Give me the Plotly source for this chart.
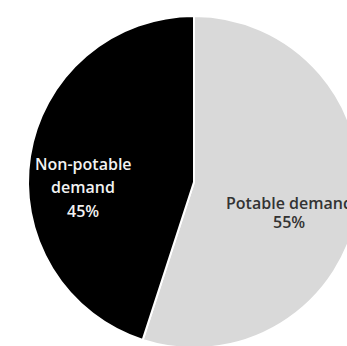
import plotly.graph_objects as go

labels = ["Potable demand", "Non-potable demand"]
values = [55, 45]
label_lines = [["Potable demand", "55%"], ["Non-potable", "demand", "45%"]]
colors = ["#d9d9d9", "#000000"]
text_colors = ["#333333", "#f2f2f2"]

W, H = 380, 362
cx, cy, r = 194, 182, 166

fig = go.Figure(go.Pie(
    labels=labels,
    values=values,
    textinfo="none",
    sort=False,
    direction="clockwise",
    rotation=0,
    marker=dict(colors=colors, line=dict(color="white", width=2)),
    domain=dict(x=[(cx - r) / W, (cx + r) / W], y=[(H - cy - r) / H, (H - cy + r) / H]),
    showlegend=False,
    hoverinfo="skip",
))

# label block centres (pixels) and line spacing
label_centres = [(289, 212), (83, 187)]
line_gap = [19, 23.5]
for lines, (lx, ly), gap, col in zip(label_lines, label_centres, line_gap, text_colors):
    n = len(lines)
    for i, t in enumerate(lines):
        yy = ly + (i - (n - 1) / 2) * gap
        fig.add_annotation(
            x=lx / W, y=(H - yy) / H, xref="paper", yref="paper",
            text=t, showarrow=False, xanchor="center", yanchor="middle",
            font=dict(family="Open Sans", size=16, color=col, weight=600),
        )

fig.update_layout(
    width=W, height=H,
    margin=dict(l=0, r=0, t=0, b=0),
    paper_bgcolor="white",
    plot_bgcolor="white",
)
fig.write_html("out.html")
